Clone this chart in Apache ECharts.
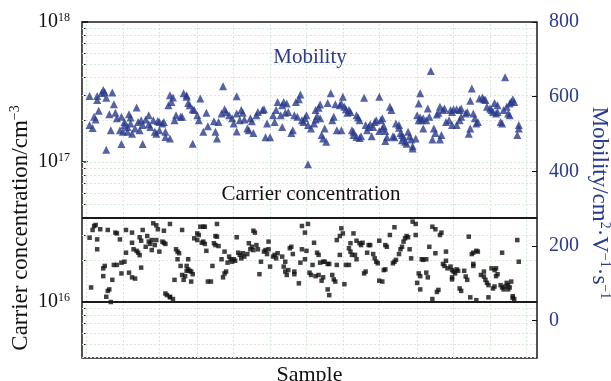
<!DOCTYPE html>
<html><head><meta charset="utf-8">
<script src="https://cdn.jsdelivr.net/npm/echarts@6/dist/echarts.min.js"></script>
<style>html,body{margin:0;padding:0;background:#fff}#c{width:611px;height:381px}</style>
</head><body><div id="c"></div>
<script>
// Mobility (cm^2 V^-1 s^-1) per sample: [sample, value]
const mobility = [[5,602],[10,602],[14,618],[13,610],[15,612],[10,591],[16,597],[20,611],[21,580],[5,524],[7,516],[8,546],[11,562],[9,539],[18,553],[19,510],[16,458],[22,557],[23,542],[25,510],[27,506],[26,473],[26,546],[28,532],[30,519],[28,524],[31,553],[32,544],[32,528],[33,501],[30,506],[36,571],[35,515],[37,532],[39,537],[40,524],[38,510],[40,473],[42,539],[44,550],[44,526],[45,519],[47,537],[48,506],[49,501],[50,535],[51,532],[53,528],[54,532],[51,510],[55,492],[55,506],[58,488],[58,604],[60,598],[59,586],[57,577],[61,537],[62,550],[65,546],[66,546],[67,609],[69,604],[69,600],[70,583],[71,577],[73,566],[74,564],[76,550],[77,537],[73,474],[78,595],[82,557],[80,506],[83,521],[87,534],[88,506],[89,488],[90,532],[93,628],[92,555],[94,566],[95,559],[97,550],[99,542],[100,528],[102,601],[102,555],[102,507],[105,564],[106,557],[104,537],[107,539],[109,515],[110,510],[111,542],[112,534],[113,503],[115,550],[116,559],[119,564],[120,566],[121,491],[124,491],[122,528],[126,550],[127,532],[128,564],[129,586],
[133,586],[135,582],[132,577],[131,550],[134,557],[136,559],[132,519],[139,510],[138,503],[141,586],[143,593],[144,606],[140,550],[142,546],[145,537],[146,532],[147,542],[148,550],[149,524],[151,515],[153,528],[154,539],[155,548],[157,542],[154,564],[156,570],[157,579],[158,497],[159,488],[161,479],[160,515],[162,583],[164,609],[165,537],[166,546],[167,580],[170,577],[172,600],[168,510],[171,510],[171,582],[173,573],[174,566],[175,557],[176,564],[177,559],[178,510],[179,506],[181,550],[182,544],[183,537],[179,497],[181,492],[183,489],[184,494],[186,597],[187,524],[188,510],[189,519],[190,526],[192,519],[191,494],[193,532],[194,537],[196,600],[196,508],[198,515],[199,521],[198,542],[197,537],[200,508],[201,491],[200,481],[203,573],[204,564],[205,494],[206,491],[207,528],[209,524],[209,517],[210,503],[211,497],[212,491],[211,483],[213,479],[214,474],[215,506],[216,494],[217,485],[218,467],[220,488],[218,461],[221,550],[222,537],[223,544],[223,609],[222,582],[224,537],[225,542],[227,537],[225,515],[228,568],[229,546],[230,669],[232,515],[233,503],[231,485],[234,552],[235,557],[236,485],[237,497],[236,573],[238,564],[239,568],[240,532],[242,537],[243,564],[244,559],[245,566],[244,524],[247,524],[247,566],[249,564],[250,568],[249,537],[250,546],[253,555],[254,559],[255,501],[256,515],[256,589],[257,622],[258,555],[259,542],[260,528],[261,532],[262,595],[264,598],[265,593],[266,591],[267,573],[269,568],[270,564],[271,559],[273,555],[274,559],[276,532],[277,528],[272,583],[274,577],[279,652],[278,564],[280,573],[282,582],[283,586],[281,555],[282,550],[284,593],[285,586],[287,497],[288,524],[288,515],[149,419]];

// Carrier concentration per sample: [sample, value in units of 1e16 cm^-3]
const carrierE16 = [[5,2.88],[8,3.49],[9,3.55],[7,3.27],[6,1.27],[10,2.80],[10,2.38],[12,3.31],[14,1.74],[15,1.81],[14,1.53],[16,1.09],[17,1.20],[18,1.23],[19,1.00],[17,3.27],[20,1.44],[21,1.84],[23,1.84],[22,3.13],[23,3.09],[25,2.80],[26,1.91],[28,1.94],[26,1.60],[29,2.25],[29,3.27],[33,3.13],[31,1.62],[33,1.50],[35,1.47],[33,2.65],[34,2.38],[36,2.32],[37,2.25],[38,2.16],[38,2.90],[39,2.74],[39,1.76],[40,3.27],[42,2.48],[43,2.96],[44,2.70],[45,2.60],[46,2.77],[46,2.35],[47,3.65],[49,3.53],[48,2.55],[49,2.77],[50,3.31],[51,2.29],[53,2.70],[54,2.65],[55,2.60],[54,3.23],[55,1.15],[56,1.12],[58,1.09],[58,1.08],[60,1.05],[58,3.61],[62,2.38],[63,2.29],[64,2.23],[61,1.44],[63,2.02],[65,1.81],[66,1.56],[67,1.44],[68,1.53],[66,3.27],[69,1.67],[70,1.71],[71,1.67],[72,1.65],[73,1.58],[69,1.81],[70,2.02],[72,1.40],[76,3.09],[77,3.01],[78,3.45],[80,3.45],[81,3.45],[74,2.85],[76,2.77],[79,2.65],[80,2.70],[81,2.60],[82,2.32],[83,1.40],[85,1.40],[86,1.81],[87,2.63],[88,2.55],[89,3.61],[88,2.96],[89,2.93],[90,2.51],[92,2.02],[93,1.50],[94,1.60],[95,1.65],[94,2.29],[96,1.91],[97,2.11],[98,2.02],[99,1.94],[100,2.02],[101,1.97],[102,2.90],[103,2.25],[104,2.17],[105,2.05],[106,2.23],[107,2.11],[109,2.20],[110,2.63],[111,2.38],[112,2.48],[113,2.35],[113,3.23],[114,3.13],[115,2.55],[116,2.38],[117,1.58],[118,1.94],[120,2.29],[121,2.35],[122,2.20],[123,2.38],[123,2.70],[124,1.79],[126,2.11],[127,2.17],[128,2.05],[129,2.23],
[132,2.11],[133,1.79],[134,1.65],[135,1.56],[134,1.94],[136,1.69],[138,2.48],[139,2.20],[137,2.42],[140,1.65],[140,1.58],[143,1.36],[145,3.49],[149,3.61],[147,3.13],[144,1.91],[147,2.02],[145,2.38],[148,2.32],[150,1.62],[151,1.56],[152,1.84],[153,2.65],[154,1.53],[156,1.56],[155,2.25],[156,2.17],[157,1.91],[159,1.94],[158,1.42],[159,1.50],[160,1.94],[162,1.87],[163,1.87],[163,1.12],[162,1.23],[165,1.56],[166,1.45],[167,1.40],[168,2.77],[170,2.96],[171,3.36],[172,3.09],[168,1.84],[170,2.17],[173,1.34],[174,1.84],[176,1.84],[176,2.42],[177,2.29],[178,2.17],[177,2.63],[179,3.09],[180,2.17],[181,2.02],[181,2.74],[183,2.63],[184,2.55],[185,2.65],[186,1.60],[187,1.65],[188,2.25],[189,2.55],[190,2.55],[192,2.20],[193,2.05],[194,1.94],[195,1.89],[196,1.42],[198,1.40],[196,2.74],[199,1.69],[200,1.71],[200,2.55],[201,2.48],[203,3.01],[206,3.42],[205,1.89],[206,1.94],[207,2.00],[209,2.20],[210,2.38],[211,2.48],[212,2.70],[213,2.85],[214,2.96],[215,2.90],[216,2.38],[217,2.05],[218,3.75],[220,3.61],[220,3.01],[224,2.02],[225,2.00],[227,2.02],[222,1.60],[223,1.53],[227,1.62],[228,1.50],[221,1.37],[223,1.23],[229,2.48],[231,1.05],[231,3.45],[233,3.31],[233,2.23],[235,1.22],[234,1.18],[236,3.01],[237,3.13],[238,1.87],[239,1.81],[240,2.29],[240,1.97],[241,1.74],[243,1.79],[244,1.69],[245,1.65],[246,1.60],[244,1.45],[244,1.50],[247,1.71],[248,1.67],[249,1.25],[250,1.20],[252,1.67],[253,1.52],[254,1.44],[255,2.93],[257,2.20],[258,2.25],[260,2.32],[261,2.29],[258,1.87],[258,1.81],[256,1.08],[260,1.03],[263,1.56],[265,1.52],[266,1.44],[267,1.37],[268,1.32],[265,1.65],[268,1.08],[270,1.74],[272,1.69],[273,1.74],[274,1.58],[273,1.53],[271,1.25],[272,1.29],[276,1.32],[277,1.27],[278,1.23],[279,1.29],[277,2.25],[280,1.37],[281,1.32],[282,1.27],[281,1.23],[283,1.40],[284,1.10],[285,1.05],[287,2.77],[288,1.94],[284,1.07]];

// Reference limit lines of carrier concentration (cm^-3)
const carrierLimits = [1e16, 4e16];
// Tick values (log axis decades and sub-decades)
const leftMajorTicks = [1e16, 1e17, 1e18];
const leftMinorTicks = [5e15,6e15,7e15,8e15,9e15,2e16,3e16,4e16,5e16,6e16,7e16,8e16,9e16,2e17,3e17,4e17,5e17,6e17,7e17,8e17,9e17];
const rightTicks = [0, 200, 400, 600, 800];
const gridLinesY = [4e15,5e15,6e15,7e15,8e15,9e15,2e16,3e16,4e16,5e16,6e16,7e16,8e16,9e16,1e17,2e17,3e17,4e17,5e17,6e17,7e17,8e17,9e17];
const gridLinesX = [3,27,51,76,100,124,148,172,196,221,245,269,293];

const FONT = 'Liberation Serif';
const BLUE = '#2b3b8c';
const LOG_MIN = Math.pow(10, 15.6), LOG_MAX = 1.0002e18;
const chart = echarts.init(document.getElementById('c'), null, {renderer:'canvas'});
const supRich = {
  b: {fontFamily: FONT, fontSize: 20, color: '#111'},
  s: {fontFamily: FONT, fontSize: 12, color: '#111', padding: [0,0,9,0]}
};
const gridLineStyle = {color: '#d6e9d6', type: [2,2], width: 1};

chart.setOption({
  animation: false,
  grid: {left: 82, right: 74, top: 22, bottom: 23, containLabel: false, outerBoundsMode: 'none',
    show: true, borderColor: '#1a1a1a', borderWidth: 1.5, backgroundColor: 'transparent'},
  xAxis: {type: 'value', min: 0, max: 300, axisLine: {show: false}, axisTick: {show: false}, axisLabel: {show: false}, splitLine: {show: false},
    name: 'Sample', nameLocation: 'middle', nameGap: 6, nameTextStyle: {fontFamily: FONT, fontSize: 22, color: '#111'}},
  yAxis: [
    {type: 'log', logBase: 10, min: LOG_MIN, max: LOG_MAX, position: 'left',
      axisLine: {show: false}, splitLine: {show: false},
      axisTick: {show: true, inside: true, length: 6, lineStyle: {color: '#111', width: 1.5}, customValues: leftMajorTicks},
      axisLabel: {margin: 12, customValues: leftMajorTicks, rich: supRich, showMaxLabel: true, showMinLabel: true, hideOverlap: false,
        formatter: v => '{b|10}{s|' + Math.round(Math.log10(v)) + '}'}},
    {type: 'value', min: -100, max: 800, position: 'right',
      axisLine: {show: false}, splitLine: {show: false},
      axisTick: {show: true, inside: true, length: 5, lineStyle: {color: '#111', width: 1}, customValues: rightTicks},
      axisLabel: {margin: 12, customValues: rightTicks, showMaxLabel: true, fontFamily: FONT, fontSize: 20, color: BLUE}},
    {type: 'log', logBase: 10, min: LOG_MIN, max: LOG_MAX, position: 'left',
      axisLine: {show: false}, splitLine: {show: false},
      axisTick: {show: true, inside: true, length: 3.5, lineStyle: {color: '#111', width: 1}, customValues: leftMinorTicks},
      axisLabel: {show: false, customValues: leftMinorTicks}}
  ],
  graphic: [
    {type: 'text', x: 21, y: 228, rotation: Math.PI/2, z: 10,
      style: {text: '{a|Carrier concentration/cm}{s|−3}', align: 'center', verticalAlign: 'middle',
        rich: {a: {fontFamily: FONT, fontSize: 23, fill: '#111'}, s: {fontFamily: FONT, fontSize: 14, fill: '#111', padding: [0,0,11,0]}}}},
    {type: 'text', x: 599, y: 203, rotation: -Math.PI/2, z: 10,
      style: {text: '{a|Mobility/cm}{s|2}{a|·V}{s|−1}{a|·s}{s|−1}', align: 'center', verticalAlign: 'middle',
        rich: {a: {fontFamily: FONT, fontSize: 23, fill: BLUE}, s: {fontFamily: FONT, fontSize: 14, fill: BLUE, padding: [0,0,11,0]}}}},
    {type: 'text', x: 310, y: 57, z: 10, style: {text: 'Mobility', align: 'center', verticalAlign: 'middle', font: '21px "Liberation Serif"', fill: BLUE}},
    {type: 'text', x: 311, y: 194, z: 10, style: {text: 'Carrier concentration', align: 'center', verticalAlign: 'middle', font: '21px "Liberation Serif"', fill: '#111'}}
  ],
  series: [
    {type: 'scatter', name: 'grid', yAxisIndex: 0, data: [], z: 1, silent: true,
      markLine: {silent: true, symbol: 'none', label: {show: false}, lineStyle: gridLineStyle, z: 1,
        data: gridLinesY.map(v => ({yAxis: v})).concat(gridLinesX.map(v => ({xAxis: v})))}},
    {type: 'scatter', name: 'Carrier concentration', yAxisIndex: 0, z: 4,
      data: carrierE16.map(d => [d[0], d[1] * 1e16]), symbol: 'rect', symbolSize: 4.5,
      itemStyle: {color: '#111'},
      markLine: {silent: true, symbol: 'none', label: {show: false}, z: 5,
        lineStyle: {color: '#1a1a1a', type: 'solid', width: 2}, data: carrierLimits.map(v => ({yAxis: v}))}},
    {type: 'scatter', name: 'Mobility', yAxisIndex: 1, z: 4, data: mobility, symbol: 'triangle', symbolSize: 8,
      itemStyle: {color: BLUE}}
  ]
});
</script></body></html>
